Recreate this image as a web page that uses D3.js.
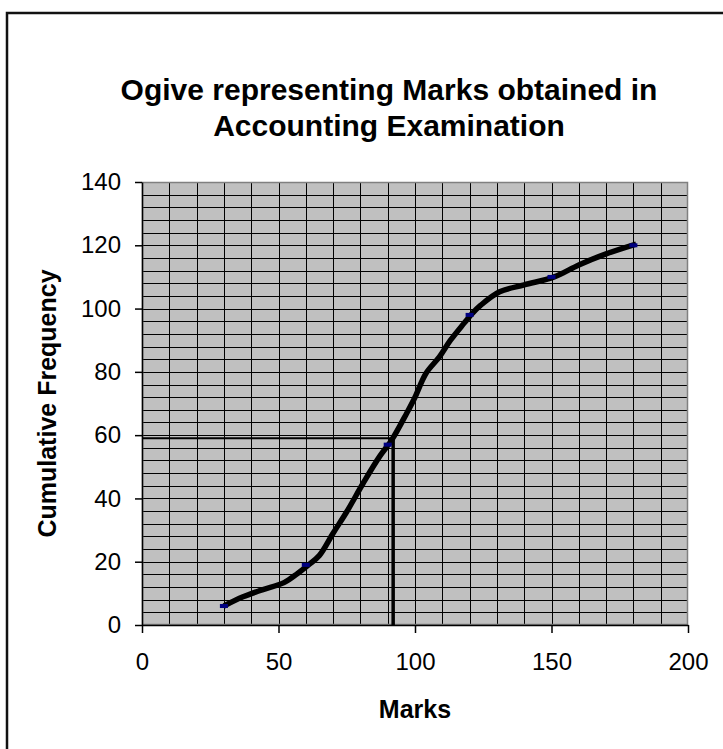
<!DOCTYPE html>
<html>
<head>
<meta charset="utf-8">
<script src="https://cdn.jsdelivr.net/npm/d3@7"></script>
<style>
  html, body { margin: 0; padding: 0; background: #fff; }
  svg { display: block; font-family: "Liberation Sans", Arial, sans-serif; }
</style>
</head>
<body>
<div id="chart"></div>
<script>
// axis ticks
var xTicks = [0, 50, 100, 150, 200];
var yTicks = [0, 20, 40, 60, 80, 100, 120, 140];

// data points (upper class limits vs cumulative frequency)
var classMarks = [30, 60, 90, 120, 150, 180];
var cumFreq = [6, 19, 57, 98, 110, 120];

// the hand drawn ogive curve
var curveMarks = [30, 37, 44, 52, 57, 61, 65, 70, 75, 81, 87, 91.5, 97, 100, 104, 109, 113, 118, 121, 124, 131, 140, 151, 160, 170, 181];
var curveFreq  = [6, 8.9, 11.1, 13.4, 16.3, 19, 22, 29, 35.8, 44.8, 53.2, 58.5, 67, 72, 79.5, 84.8, 90, 95.4, 98.5, 101, 105.3, 107.5, 110, 113.8, 117.3, 120.4];

// median read-off lines
var medianFreq = 59;
var medianMark = 92;

var W = 723, H = 749;
var margin = {top: 182, right: 35, bottom: 124, left: 142},
    width = W - margin.left - margin.right,
    height = H - margin.top - margin.bottom;

var svg = d3.select("#chart").append("svg")
    .attr("width", W)
    .attr("height", H);

// chart border (cropped on right and bottom)
svg.append("rect")
    .attr("x", 7).attr("y", 13)
    .attr("width", W + 20).attr("height", H + 20)
    .attr("fill", "#fff")
    .attr("stroke", "#111")
    .attr("stroke-width", 2.5);

svg.append("text")
    .attr("x", 389).attr("y", 100)
    .attr("text-anchor", "middle")
    .style("font-size", "30px").style("font-weight", "bold")
    .text("Ogive representing Marks obtained in");
svg.append("text")
    .attr("x", 389).attr("y", 136)
    .attr("text-anchor", "middle")
    .style("font-size", "30px").style("font-weight", "bold")
    .text("Accounting Examination");

var g = svg.append("g")
    .attr("transform", "translate(" + margin.left + "," + margin.top + ")");

var x = d3.scaleLinear().domain([0, 200]).range([0, width]);
var y = d3.scaleLinear().domain([0, 140]).range([height, 0]);

g.append("rect")
    .attr("width", width).attr("height", height)
    .attr("fill", "#c0c0c0");

// gridlines
g.selectAll(".hgrid").data(d3.range(4, 140, 4)).enter().append("line")
    .attr("class", "hgrid")
    .attr("x1", 0).attr("x2", width)
    .attr("y1", function (d) { return Math.round(y(d)) + 0.5; })
    .attr("y2", function (d) { return Math.round(y(d)) + 0.5; })
    .attr("stroke", "#000").attr("stroke-width", 1);
g.selectAll(".vgrid").data(d3.range(10, 200, 10)).enter().append("line")
    .attr("class", "vgrid")
    .attr("y1", 0).attr("y2", height)
    .attr("x1", function (d) { return Math.round(x(d)) + 0.5; })
    .attr("x2", function (d) { return Math.round(x(d)) + 0.5; })
    .attr("stroke", "#000").attr("stroke-width", 1);

g.append("rect")
    .attr("x", 0.5).attr("y", 0.5)
    .attr("width", width - 1).attr("height", height - 1)
    .attr("fill", "none")
    .attr("stroke", "#808080").attr("stroke-width", 1.5);

// axes
var xAxis = g.append("g")
    .attr("transform", "translate(0," + height + ")")
    .call(d3.axisBottom(x).tickValues(xTicks).tickSize(8).tickPadding(20).tickSizeOuter(0));
var yAxis = g.append("g")
    .call(d3.axisLeft(y).tickValues(yTicks).tickSize(7).tickPadding(14).tickSizeOuter(0));
[xAxis, yAxis].forEach(function (a) {
    a.selectAll("path, line").attr("stroke", "#000").attr("stroke-width", 1.5);
    a.selectAll("text")
        .attr("fill", "#000")
        .style("font-size", "24px")
        .style("font-family", "'Liberation Sans', Arial, sans-serif");
});

// median lines
g.append("line")
    .attr("x1", 0).attr("x2", x(medianMark))
    .attr("y1", y(medianFreq)).attr("y2", y(medianFreq))
    .attr("stroke", "#000").attr("stroke-width", 2);
g.append("line")
    .attr("x1", x(medianMark)).attr("x2", x(medianMark))
    .attr("y1", y(medianFreq)).attr("y2", height)
    .attr("stroke", "#000").attr("stroke-width", 3.5);

// ogive curve
var line = d3.line()
    .x(function (d) { return x(d[0]); })
    .y(function (d) { return y(d[1]); })
    .curve(d3.curveCatmullRom.alpha(0.5));
g.append("path")
    .datum(d3.zip(curveMarks, curveFreq))
    .attr("d", line)
    .attr("fill", "none")
    .attr("stroke", "#000")
    .attr("stroke-width", 5.5)
    .attr("stroke-linejoin", "round");

// point markers
g.selectAll(".pt").data(d3.zip(classMarks, cumFreq)).enter().append("rect")
    .attr("class", "pt")
    .attr("x", function (d) { return x(d[0]) - 4; })
    .attr("y", function (d) { return y(d[1]) - 2; })
    .attr("width", 8).attr("height", 4)
    .attr("fill", "#000080");

// axis titles
svg.append("text")
    .attr("x", margin.left + width / 2).attr("y", 718)
    .attr("text-anchor", "middle")
    .style("font-size", "25px").style("font-weight", "bold")
    .text("Marks");
svg.append("text")
    .attr("transform", "translate(56," + (margin.top + height / 2) + ") rotate(-90)")
    .attr("text-anchor", "middle")
    .style("font-size", "25px").style("font-weight", "bold")
    .text("Cumulative Frequency");
</script>
</body>
</html>
